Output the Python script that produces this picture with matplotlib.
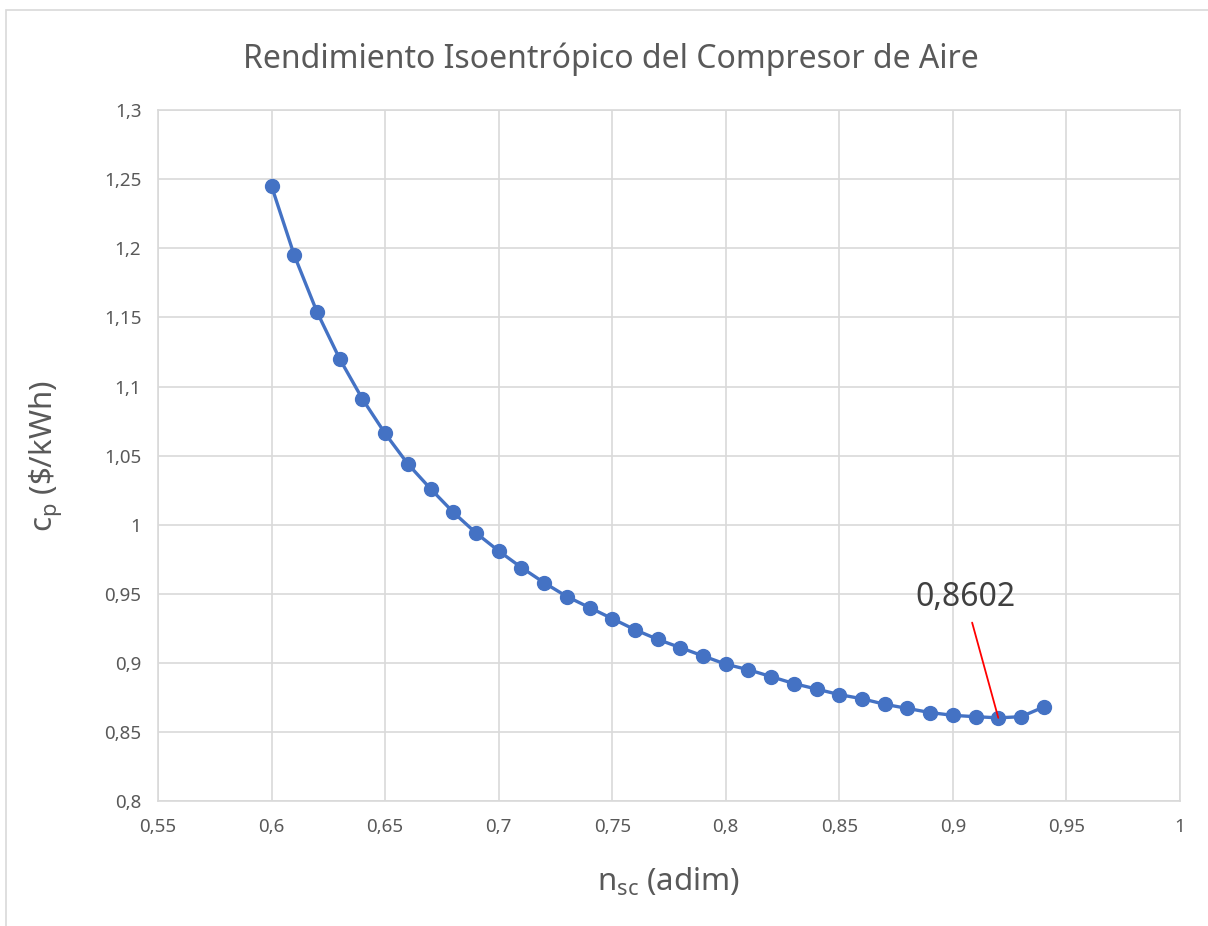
import matplotlib.pyplot as plt
from matplotlib.ticker import FuncFormatter, MultipleLocator
from matplotlib.patches import Rectangle

# rendimiento isoentropico vs coste
n_sc = [0.60, 0.61, 0.62, 0.63, 0.64, 0.65, 0.66, 0.67, 0.68, 0.69,
        0.70, 0.71, 0.72, 0.73, 0.74, 0.75, 0.76, 0.77, 0.78, 0.79,
        0.80, 0.81, 0.82, 0.83, 0.84, 0.85, 0.86, 0.87, 0.88, 0.89,
        0.90, 0.91, 0.92, 0.93, 0.94]
c_p = [1.245, 1.195, 1.154, 1.120, 1.091, 1.066, 1.044, 1.026, 1.009, 0.994,
       0.981, 0.969, 0.958, 0.948, 0.940, 0.932, 0.924, 0.917, 0.911, 0.905,
       0.899, 0.895, 0.890, 0.885, 0.881, 0.877, 0.874, 0.870, 0.867, 0.864,
       0.862, 0.861, 0.8602, 0.861, 0.868]
min_x = 0.92
min_y = 0.8602

plt.rcParams['font.family'] = ['Noto Sans', 'DejaVu Sans']
txt = '#595959'

fig = plt.figure(figsize=(12.08, 9.26), dpi=100)
# chart frame (only top and left edges are inside the picture)
fig.patches.append(Rectangle((0.005, -0.05), 1.1, 1.039, transform=fig.transFigure,
                             fill=False, edgecolor='#D9D9D9', linewidth=1.2))
ax = fig.add_axes([0.1308, 0.135, 0.846, 0.746])

ax.plot(n_sc, c_p, color='#4472C4', linewidth=2.4, marker='o', markersize=10, zorder=3)

ax.set_xlim(0.55, 1.0)
ax.set_ylim(0.8, 1.3)
ax.xaxis.set_major_locator(MultipleLocator(0.05))
ax.yaxis.set_major_locator(MultipleLocator(0.05))
fmt = FuncFormatter(lambda v, p: ('%g' % round(v, 3)).replace('.', ','))
ax.xaxis.set_major_formatter(fmt)
ax.yaxis.set_major_formatter(fmt)
ax.grid(True, color='#D9D9D9', linewidth=1.2)
ax.set_axisbelow(True)
for s in ax.spines.values():
    s.set_color('#D9D9D9')
    s.set_linewidth(1.2)
ax.tick_params(length=0, labelsize=13.5, colors=txt, pad=12)

fig.text(0.506, 0.936, 'Rendimiento Isoentrópico del Compresor de Aire', fontsize=23,
         color=txt, ha='center', va='center')
ax.set_xlabel(r'n$_\mathregular{sc}$ (adim)', fontsize=22.5, color=txt, labelpad=22)
ax.set_ylabel(r'c$_\mathregular{p}$ (\$/kWh)', fontsize=22.5, color=txt, labelpad=28)

ax.annotate(('%.4f' % min_y).replace('.', ','), xy=(min_x, min_y), xytext=(0.9055, 0.935),
            fontsize=23, color='#404040', ha='center', va='bottom',
            arrowprops=dict(arrowstyle='-', color='red', linewidth=1.3, shrinkA=4, shrinkB=0))

fig.savefig('out.png', dpi=100)
